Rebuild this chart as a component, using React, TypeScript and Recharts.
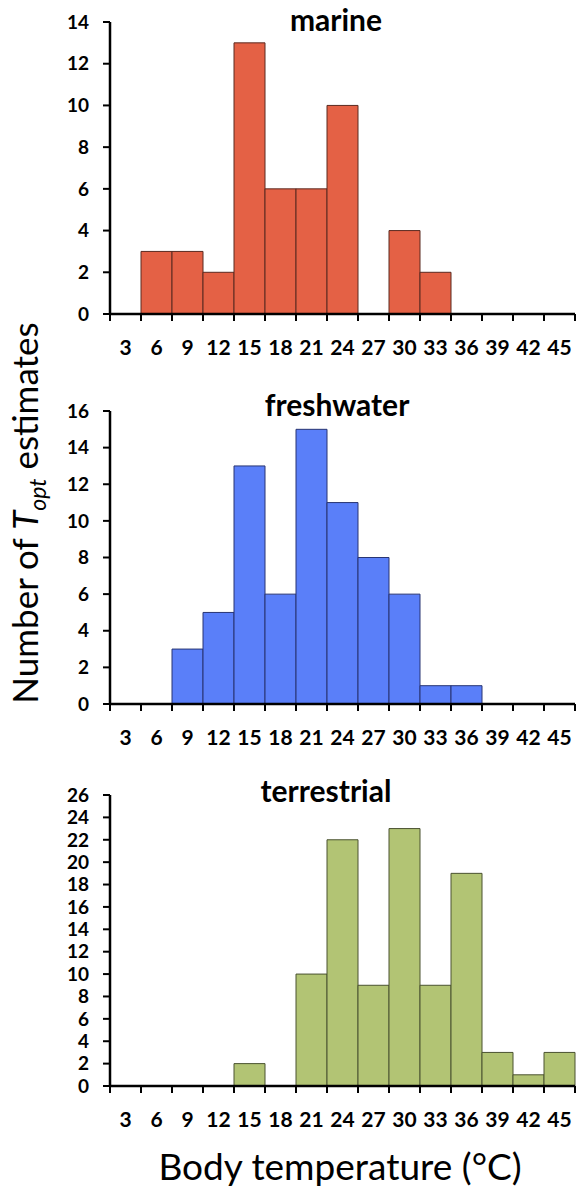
import React from "react";
import { BarChart, Bar, XAxis, YAxis } from "recharts";

const temps = ["3", "6", "9", "12", "15", "18", "21", "24", "27", "30", "33", "36", "39", "42", "45"];
const marineCounts = [0, 3, 3, 2, 13, 6, 6, 10, 0, 4, 2, 0, 0, 0, 0];
const freshwaterCounts = [0, 0, 3, 5, 13, 6, 15, 11, 8, 6, 1, 1, 0, 0, 0];
const terrestrialCounts = [0, 0, 0, 0, 2, 0, 10, 22, 9, 23, 9, 19, 3, 1, 3];
const marineTicks = [0, 2, 4, 6, 8, 10, 12, 14];
const freshwaterTicks = [0, 2, 4, 6, 8, 10, 12, 14, 16];
const terrestrialTicks = [0, 2, 4, 6, 8, 10, 12, 14, 16, 18, 20, 22, 24, 26];

const FONT = "Lato, 'Open Sans', sans-serif";
const CHART_W = 579;
const Y_AXIS_W = 110;
const RIGHT = 4;
const TOP_PAD = 16;
const X_AXIS_H = 45;
const BAND = (CHART_W - Y_AXIS_W - RIGHT) / temps.length;

function BoundaryTick(props: any) {
  const { x, y, payload, index } = props;
  const left = x - BAND / 2;
  const last = index === temps.length - 1;
  return (
    <g>
      <line x1={left} x2={left} y1={y} y2={y + 7} stroke="#000" strokeWidth={2} />
      {last && (
        <line x1={x + BAND / 2} x2={x + BAND / 2} y1={y} y2={y + 7} stroke="#000" strokeWidth={2} />
      )}
      <text
        x={x}
        y={y + 32}
        textAnchor="middle"
        dominantBaseline="central"
        fontFamily={FONT}
        fontWeight={700}
        fontSize={21}
        fill="#000"
      >
        {payload.value}
      </text>
    </g>
  );
}

interface PanelProps {
  title: string;
  titleX: number;
  titleY: number;
  plotTop: number;
  plotHeight: number;
  counts: number[];
  ticks: number[];
  fill: string;
  stroke: string;
}

function Panel({ title, titleX, titleY, plotTop, plotHeight, counts, ticks, fill, stroke }: PanelProps) {
  const data = temps.map((t, i) => ({ temp: t, count: counts[i] }));
  return (
    <>
      <div
        style={{
          position: "absolute",
          left: titleX,
          top: titleY,
          transform: "translate(-50%, -50%)",
          fontFamily: FONT,
          fontWeight: 700,
          fontSize: 30,
          whiteSpace: "nowrap",
          lineHeight: 1,
        }}
      >
        {title}
      </div>
      <div style={{ position: "absolute", left: 0, top: plotTop - TOP_PAD }}>
        <BarChart
          width={CHART_W}
          height={TOP_PAD + plotHeight + X_AXIS_H}
          data={data}
          margin={{ top: TOP_PAD, right: RIGHT, left: 0, bottom: 0 }}
          barCategoryGap={0}
        >
          <XAxis
            dataKey="temp"
            height={X_AXIS_H}
            interval={0}
            tickSize={0}
            tickMargin={0}
            tickLine={false}
            axisLine={{ stroke: "#000", strokeWidth: 2.5 }}
            tick={(p: any) => <BoundaryTick {...p} />}
          />
          <YAxis
            width={Y_AXIS_W}
            domain={[0, ticks[ticks.length - 1]]}
            ticks={ticks}
            interval={0}
            tickSize={7}
            tickMargin={14}
            axisLine={{ stroke: "#000", strokeWidth: 2.5 }}
            tickLine={{ stroke: "#000", strokeWidth: 2 }}
            tick={{ fill: "#000", fontFamily: FONT, fontWeight: 700, fontSize: 19 }}
          />
          <Bar dataKey="count" fill={fill} stroke={stroke} strokeWidth={1} isAnimationActive={false} />
        </BarChart>
      </div>
    </>
  );
}

export default function App() {
  return (
    <div
      style={{
        position: "absolute",
        left: 0,
        top: 0,
        width: 579,
        height: 1188,
        background: "#fff",
        overflow: "hidden",
      }}
    >
      <Panel
        title="marine"
        titleX={336}
        titleY={19}
        plotTop={22}
        plotHeight={292}
        counts={marineCounts}
        ticks={marineTicks}
        fill="#E46145"
        stroke="#5a2a20"
      />
      <Panel
        title="freshwater"
        titleX={337}
        titleY={404}
        plotTop={411}
        plotHeight={293}
        counts={freshwaterCounts}
        ticks={freshwaterTicks}
        fill="#5A7FF9"
        stroke="#283573"
      />
      <Panel
        title="terrestrial"
        titleX={326}
        titleY={790}
        plotTop={795}
        plotHeight={291}
        counts={terrestrialCounts}
        ticks={terrestrialTicks}
        fill="#B2C474"
        stroke="#4a5230"
      />
      <div
        style={{
          position: "absolute",
          left: 28,
          top: 513,
          transform: "translate(-50%, -50%) rotate(-90deg)",
          fontFamily: FONT,
          fontSize: 35,
          whiteSpace: "nowrap",
          lineHeight: 1,
        }}
      >
        Number of{" "}
        <i>
          T<sub style={{ fontSize: 23 }}>opt</sub>
        </i>{" "}
        estimates
      </div>
      <div
        style={{
          position: "absolute",
          left: 340,
          top: 1165,
          transform: "translate(-50%, -50%)",
          fontFamily: FONT,
          fontSize: 37,
          whiteSpace: "nowrap",
          lineHeight: 1,
        }}
      >
        Body temperature (°C)
      </div>
    </div>
  );
}
